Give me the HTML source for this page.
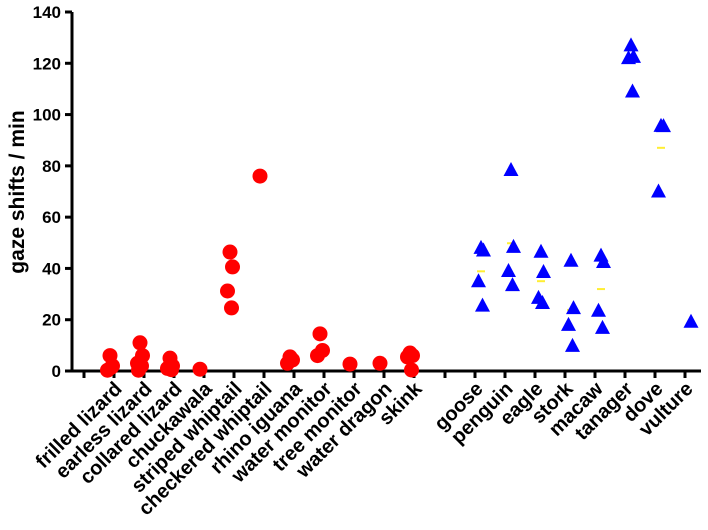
<!DOCTYPE html>
<html><head><meta charset="utf-8"><style>
html,body{margin:0;padding:0;background:#fff;}
svg{display:block;font-family:"Liberation Sans",sans-serif;font-weight:bold;}
</style></head><body>
<svg id="chart" width="708" height="530"></svg>
<script>
const lizardNames=["frilled lizard","earless lizard","collared lizard","chuckawala","striped whiptail","checkered whiptail","rhino iguana","water monitor","tree monitor","water dragon","skink"];
const lizardValues=[[6,2,0.3,1.5],[11,6,3,2,0.3],[5,2,1,0.5],[0.7],[46.4,40.6,31.2,24.6],[76],[5.5,4.3,3],[14.5,8,6],[2.7],[3],[7,6,5.5,0.4]];
const birdNames=["goose","penguin","eagle","stork","macaw","tanager","dove","vulture"];
const birdValues=[[48,47,35,25.5],[78.4,48.4,39,33.5],[46.5,38.6,28.5,26.5],[43,24.5,18,9.8],[45,42.5,23.5,16.8],[127,122.5,122,109],[95.6,95.5,70],[19.2]];
const yTicks=[0,20,40,60,80,100,120,140];

const NS="http://www.w3.org/2000/svg";
const svg=document.getElementById('chart');
const y0=371,yTop=12,yMax=140;
function yS(v){return y0-(v/yMax)*(y0-yTop);}
function lizX(i){return 110+30*i;}
function birdX(i){return 481+30*i;}
const jit=[0,2.5,-2.5,1.5,-1.5];
function mk(tag,attrs,parent){const e=document.createElementNS(NS,tag);for(const k in attrs)e.setAttribute(k,attrs[k]);(parent||svg).appendChild(e);return e;}

const yAxis=mk('line',{x1:72,y1:yTop,x2:72,y2:y0+1.5,stroke:'#000','stroke-width':3});


const xAxis=mk('line',{x1:70.5,y1:y0,x2:701,y2:y0,stroke:'#000','stroke-width':3});



yTicks.forEach(t=>{
  const tk=mk('line',{x1:65,y1:yS(t),x2:72,y2:yS(t),stroke:'#000','stroke-width':3});
  
  
  const lb=mk('text',{x:61,y:yS(t)+6,'text-anchor':'end','font-size':17});
  lb.textContent=t;
  
  
});
const yt=mk('text',{x:0,y:0,'text-anchor':'middle','font-size':21,transform:'translate(24,192) rotate(-90)'});
yt.textContent='gaze shifts / min';



for(let i=0;i<=lizardNames.length;i++){
  const tk=mk('line',{x1:lizX(i)-26,y1:y0,x2:lizX(i)-26,y2:y0+7,stroke:'#000','stroke-width':3});
  
  
}
for(let i=0;i<=birdNames.length;i++){
  const tk=mk('line',{x1:birdX(i)-36,y1:y0,x2:birdX(i)-36,y2:y0+7,stroke:'#000','stroke-width':3});
  
  
}

lizardNames.forEach((n,i)=>{
  const x=lizX(i)+13,y=390;
  const t=mk('text',{x:x,y:y,'text-anchor':'end','font-size':20,transform:`rotate(-45 ${x} ${y})`});
  t.textContent=n;
  
  
});
birdNames.forEach((n,i)=>{
  const x=birdX(i)+3,y=390;
  const t=mk('text',{x:x,y:y,'text-anchor':'end','font-size':20,transform:`rotate(-45 ${x} ${y})`});
  t.textContent=n;
  
  
});

lizardValues.forEach((vals,i)=>{
  vals.forEach((v,j)=>{
    const c=mk('circle',{cx:lizX(i)+jit[j%5],cy:yS(v),r:7.5,fill:'#ff0000'});
    
    
  });
});
birdValues.forEach((vals,i)=>{
  const cx=birdX(i);
  if(vals.length>1){
    const m=vals.reduce((a,b)=>a+b,0)/vals.length;
    const ml=mk('line',{x1:cx-4,y1:yS(m),x2:cx+4,y2:yS(m),stroke:'#ffee33','stroke-width':2});
    
    
  }
  vals.forEach((v,j)=>{
    const x=cx+jit[j%5],y=yS(v);
    const p=mk('polygon',{points:`${x},${y-8} ${x-7.5},${y+6} ${x+7.5},${y+6}`,fill:'#0000ff'});
    
    
  });
});
</script>
</body></html>
